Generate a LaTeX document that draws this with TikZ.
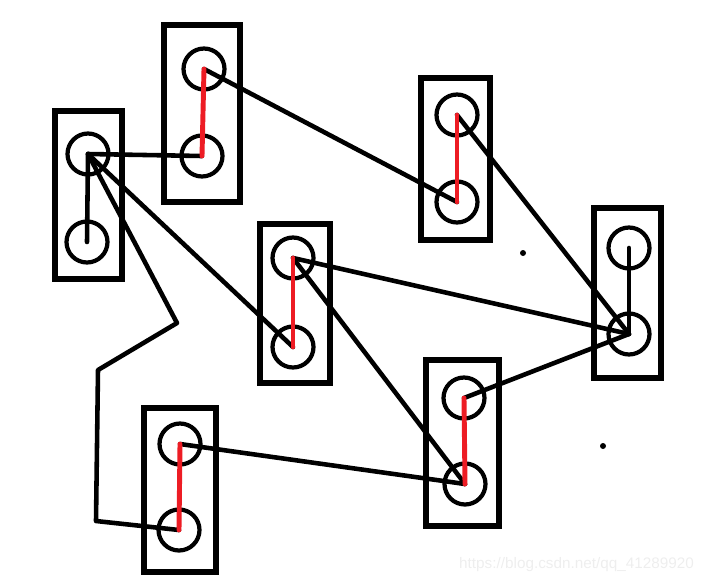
\documentclass[tikz,border=0pt]{standalone}
\usepackage{fontspec}
\setmainfont{Liberation Sans}
\usetikzlibrary{positioning}
\definecolor{paintRed}{RGB}{237,28,36}
\definecolor{markGray}{RGB}{238,238,238}

\begin{document}
\begin{tikzpicture}[
  x=0.02cm, y=-0.02cm,
  pinbox/.style={draw, line width=3.4pt, rectangle, inner sep=0pt},
  pin/.style={draw, circle, line width=2.4pt, minimum size=0.82cm, inner sep=0pt},
  wire/.style={line width=2.6pt, line cap=round, line join=round},
  bond/.style={paintRed, line width=2.8pt, line cap=round},
]
  \useasboundingbox (0,0) rectangle (706,582);

  % boxes
  \node[pinbox, minimum width=1.34cm, minimum height=3.36cm] (boxA) at (88.5,195) {};
  \node[pinbox, minimum width=1.52cm, minimum height=3.54cm] (boxB) at (202,113.5) {};
  \node[pinbox, minimum width=1.38cm, minimum height=3.24cm] (boxC) at (455.5,159) {};
  \node[pinbox, minimum width=1.40cm, minimum height=3.18cm] (boxD) at (295,303.5) {};
  \node[pinbox, minimum width=1.34cm, minimum height=3.40cm] (boxE) at (627.5,293) {};
  \node[pinbox, minimum width=1.46cm, minimum height=3.32cm] (boxF) at (462.5,443) {};
  \node[pinbox, minimum width=1.44cm, minimum height=3.28cm] (boxG) at (180,490) {};

  % circles
  \node[pin] (A1) at (88,154) {};
  \node[pin] (A2) at (87,242) {};
  \node[pin] (B1) at (204,69) {};
  \node[pin] (B2) at (202,156) {};
  \node[pin] (C1) at (457,115) {};
  \node[pin] (C2) at (457,202) {};
  \node[pin] (D1) at (293,258) {};
  \node[pin] (D2) at (293,347) {};
  \node[pin] (E1) at (629,248) {};
  \node[pin] (E2) at (629,334) {};
  \node[pin] (F1) at (464,398) {};
  \node[pin] (F2) at (465,484) {};
  \node[pin] (G1) at (180,444) {};
  \node[pin] (G2) at (179,530) {};

  % bends of the long wire
  \coordinate (k1) at (177,323);
  \coordinate (k2) at (98,370);
  \coordinate (k3) at (96,521);

  % black wires
  \draw[wire] (A1.center) -- (B2.center);
  \draw[wire] (A1.center) -- (A2.center);
  \draw[wire] (A1.center) -- (D2.center);
  \draw[wire] (A1.center) -- (k1) -- (k2) -- (k3) -- (G2.center);
  \draw[wire] (B1.center) -- (C2.center);
  \draw[wire] (C1.center) -- (E2.center);
  \draw[wire] (E1.center) -- (E2.center);
  \draw[wire] (D1.center) -- (E2.center);
  \draw[wire] (D1.center) -- (F2.center);
  \draw[wire] (F1.center) -- (E2.center);
  \draw[wire] (G1.center) -- (F2.center);

  % red links
  \draw[bond] (B1.center) -- (B2.center);
  \draw[bond] (C1.center) -- (C2.center);
  \draw[bond] (D1.center) -- (D2.center);
  \draw[bond] (F1.center) -- (F2.center);
  \draw[bond] (G1.center) -- (G2.center);

  % stray dots
  \fill (523,253) circle (3);
  \fill (603,446) circle (3);

  \node[markGray, font=\fontsize{8.7pt}{10pt}\selectfont, anchor=east] (mark) at (700,565)
    {https://blog.csdn.net/qq\_41289920};
\end{tikzpicture}
\end{document}
